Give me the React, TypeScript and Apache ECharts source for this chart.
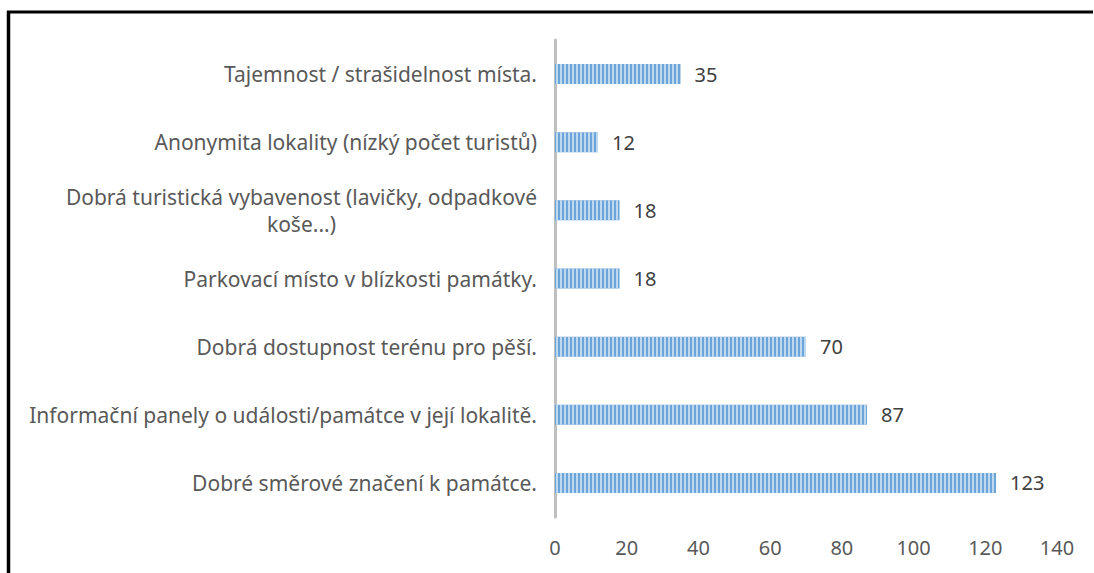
import React, { useEffect, useRef } from "react";
import * as echarts from "echarts";

const categories: string[] = [
  "Tajemnost / strašidelnost místa.",
  "Anonymita lokality (nízký počet turistů)",
  "Dobrá turistická vybavenost (lavičky, odpadkové koše...)",
  "Parkovací místo v blízkosti památky.",
  "Dobrá dostupnost terénu pro pěší.",
  "Informační panely o události/památce v její lokalitě.",
  "Dobré směrové značení k památce.",
];
const values: number[] = [35, 12, 18, 18, 70, 87, 123];
const xTicks = { min: 0, max: 140, interval: 20 };

const FONT = "Noto Sans";

export default function App() {
  const ref = useRef<HTMLDivElement>(null);
  useEffect(() => {
    document.body.style.margin = "0";
    const chart = echarts.init(ref.current!, null, { renderer: "svg" });
    chart.setOption({
      animation: false,
      backgroundColor: "#ffffff",
      grid: { left: 555, right: 37, top: 40, bottom: 56, containLabel: false },
      xAxis: {
        type: "value",
        min: xTicks.min,
        max: xTicks.max,
        interval: xTicks.interval,
        axisLine: { show: false },
        axisTick: { show: false },
        splitLine: { show: false },
        axisLabel: { color: "#595959", fontSize: 20, fontFamily: FONT, margin: 20 },
      },
      yAxis: {
        type: "category",
        inverse: true,
        data: categories,
        axisLine: { show: true, lineStyle: { color: "#BFBFBF", width: 3 } },
        axisTick: { show: false },
        axisLabel: {
          color: "#595959",
          fontSize: 21,
          fontFamily: FONT,
          margin: 18,
          lineHeight: 27,
          formatter: (v: string) => {
            if (v.length > 55) {
              const idx = v.lastIndexOf(" ");
              return `{c|${v.slice(0, idx)}}\n{c|${v.slice(idx + 1)}}`;
            }
            return v;
          },
          rich: {
            c: { align: "center", color: "#595959", fontSize: 21, fontFamily: FONT, lineHeight: 27 },
          },
        },
      },
      series: [
        {
          type: "bar",
          data: values,
          barWidth: 20,
          itemStyle: {
            color: "#6BA5DA",
            decal: {
              symbol: "rect",
              dashArrayX: [1.6, 1.6],
              dashArrayY: [10, 0],
              rotation: 0,
              color: "rgba(200, 222, 242, 0.9)",
              symbolSize: 1,
            },
          },
          label: {
            show: true,
            position: "right",
            distance: 14,
            color: "#404040",
            fontSize: 20,
            fontFamily: FONT,
          },
        },
      ],
      graphic: [
        { type: "line", shape: { x1: 7, y1: 12, x2: 1093, y2: 12 }, style: { stroke: "#000", lineWidth: 3 } },
        { type: "line", shape: { x1: 8.5, y1: 11, x2: 8.5, y2: 573 }, style: { stroke: "#000", lineWidth: 3.5 } },
      ],
    });
    return () => chart.dispose();
  }, []);
  return <div ref={ref} style={{ width: 1094, height: 573 }} />;
}
